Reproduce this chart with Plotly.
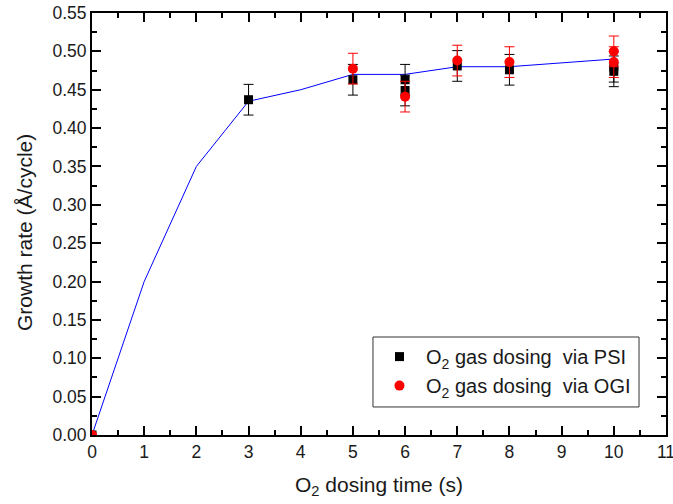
import plotly.graph_objects as go

# Fitted growth-rate curve
line_x = [0, 1, 2, 3, 4, 5, 6, 7, 8, 10]
line_y = [0.0, 0.20, 0.35, 0.435, 0.45, 0.47, 0.47, 0.48, 0.48, 0.49]

# O2 gas dosing via PSI
psi_x = [0, 3, 5, 6, 6, 7, 8, 10, 10]
psi_y = [0.0, 0.437, 0.463, 0.463, 0.449, 0.481, 0.476, 0.474, 0.480]
psi_err = [0.0, 0.02, 0.02, 0.02, 0.02, 0.02, 0.02, 0.02, 0.02]

# O2 gas dosing via OGI
ogi_x = [0, 5, 6, 7, 8, 10, 10]
ogi_y = [0.0, 0.4775, 0.441, 0.488, 0.486, 0.500, 0.486]
ogi_err = [0.0, 0.02, 0.02, 0.02, 0.02, 0.02, 0.02]

x_ticks = list(range(0, 12))
y_ticks = [round(0.05 * i, 2) for i in range(12)]

FONT = "Arial, 'Liberation Sans', sans-serif"
TXT = "#1a1a1a"

fig = go.Figure()

fig.add_trace(go.Scatter(
    x=line_x, y=line_y, mode="lines",
    line=dict(color="#0000ff", width=1),
    showlegend=False, hoverinfo="skip",
))

fig.add_trace(go.Scatter(
    x=psi_x, y=psi_y, mode="markers",
    name="O<sub>2</sub> gas dosing\u00a0\u00a0via PSI",
    marker=dict(symbol="square", size=9, color="black"),
    error_y=dict(type="data", array=psi_err, visible=True,
                 color="black", thickness=1, width=5),
))

fig.add_trace(go.Scatter(
    x=ogi_x, y=ogi_y, mode="markers",
    name="O<sub>2</sub> gas dosing\u00a0\u00a0via OGI",
    marker=dict(symbol="circle", size=10, color="#ff0000"),
    error_y=dict(type="data", array=ogi_err, visible=True,
                 color="#ff0000", thickness=1, width=5),
))

axis_common = dict(
    showline=True, linecolor="black", linewidth=2,
    mirror="allticks", ticks="inside", ticklen=9, tickwidth=1.5,
    tickcolor="black", showgrid=False, zeroline=False,
    tickfont=dict(family=FONT, size=17.5, color=TXT),
    ticklabeloverflow="allow", automargin=False,
)

fig.update_xaxes(
    range=[0, 11], tickmode="array", tickvals=x_ticks,
    ticktext=[str(v) for v in x_ticks],
    minor=dict(dtick=0.5, ticks="inside", ticklen=5, tickwidth=1.5,
               tickcolor="black", showgrid=False),
    title=dict(text="O<sub>2</sub> dosing time (s)",
               font=dict(family=FONT, size=21, color=TXT), standoff=16),
    **axis_common,
)

fig.update_yaxes(
    range=[0, 0.55], tickmode="array", tickvals=y_ticks,
    ticktext=[f"{v:.2f}" for v in y_ticks],
    minor=dict(dtick=0.025, ticks="inside", ticklen=5, tickwidth=1.5,
               tickcolor="black", showgrid=False),
    **axis_common,
)

# Y-axis title placed as a rotated annotation
fig.add_annotation(
    text="Growth rate (Å/cycle)", textangle=-90,
    xref="paper", yref="paper", x=-0.1185, y=0.481,
    xanchor="center", yanchor="middle", showarrow=False,
    font=dict(family=FONT, size=21, color=TXT),
)

# Frame around the legend
fig.add_shape(
    type="rect", xref="paper", yref="paper",
    x0=0.4895, x1=0.953, y0=0.0664, y1=0.2322,
    line=dict(color="#333", width=1), fillcolor="white", layer="below",
)

fig.update_layout(
    width=673, height=504,
    margin=dict(l=92, r=7, t=13, b=69),
    plot_bgcolor="white", paper_bgcolor="white",
    font=dict(family=FONT, color=TXT),
    legend=dict(
        x=0.4895, y=0.232, xanchor="left", yanchor="top",
        bgcolor="rgba(0,0,0,0)", borderwidth=0,
        font=dict(family=FONT, size=20, color=TXT),
        itemwidth=43,
    ),
)

fig.write_html("out.html")
